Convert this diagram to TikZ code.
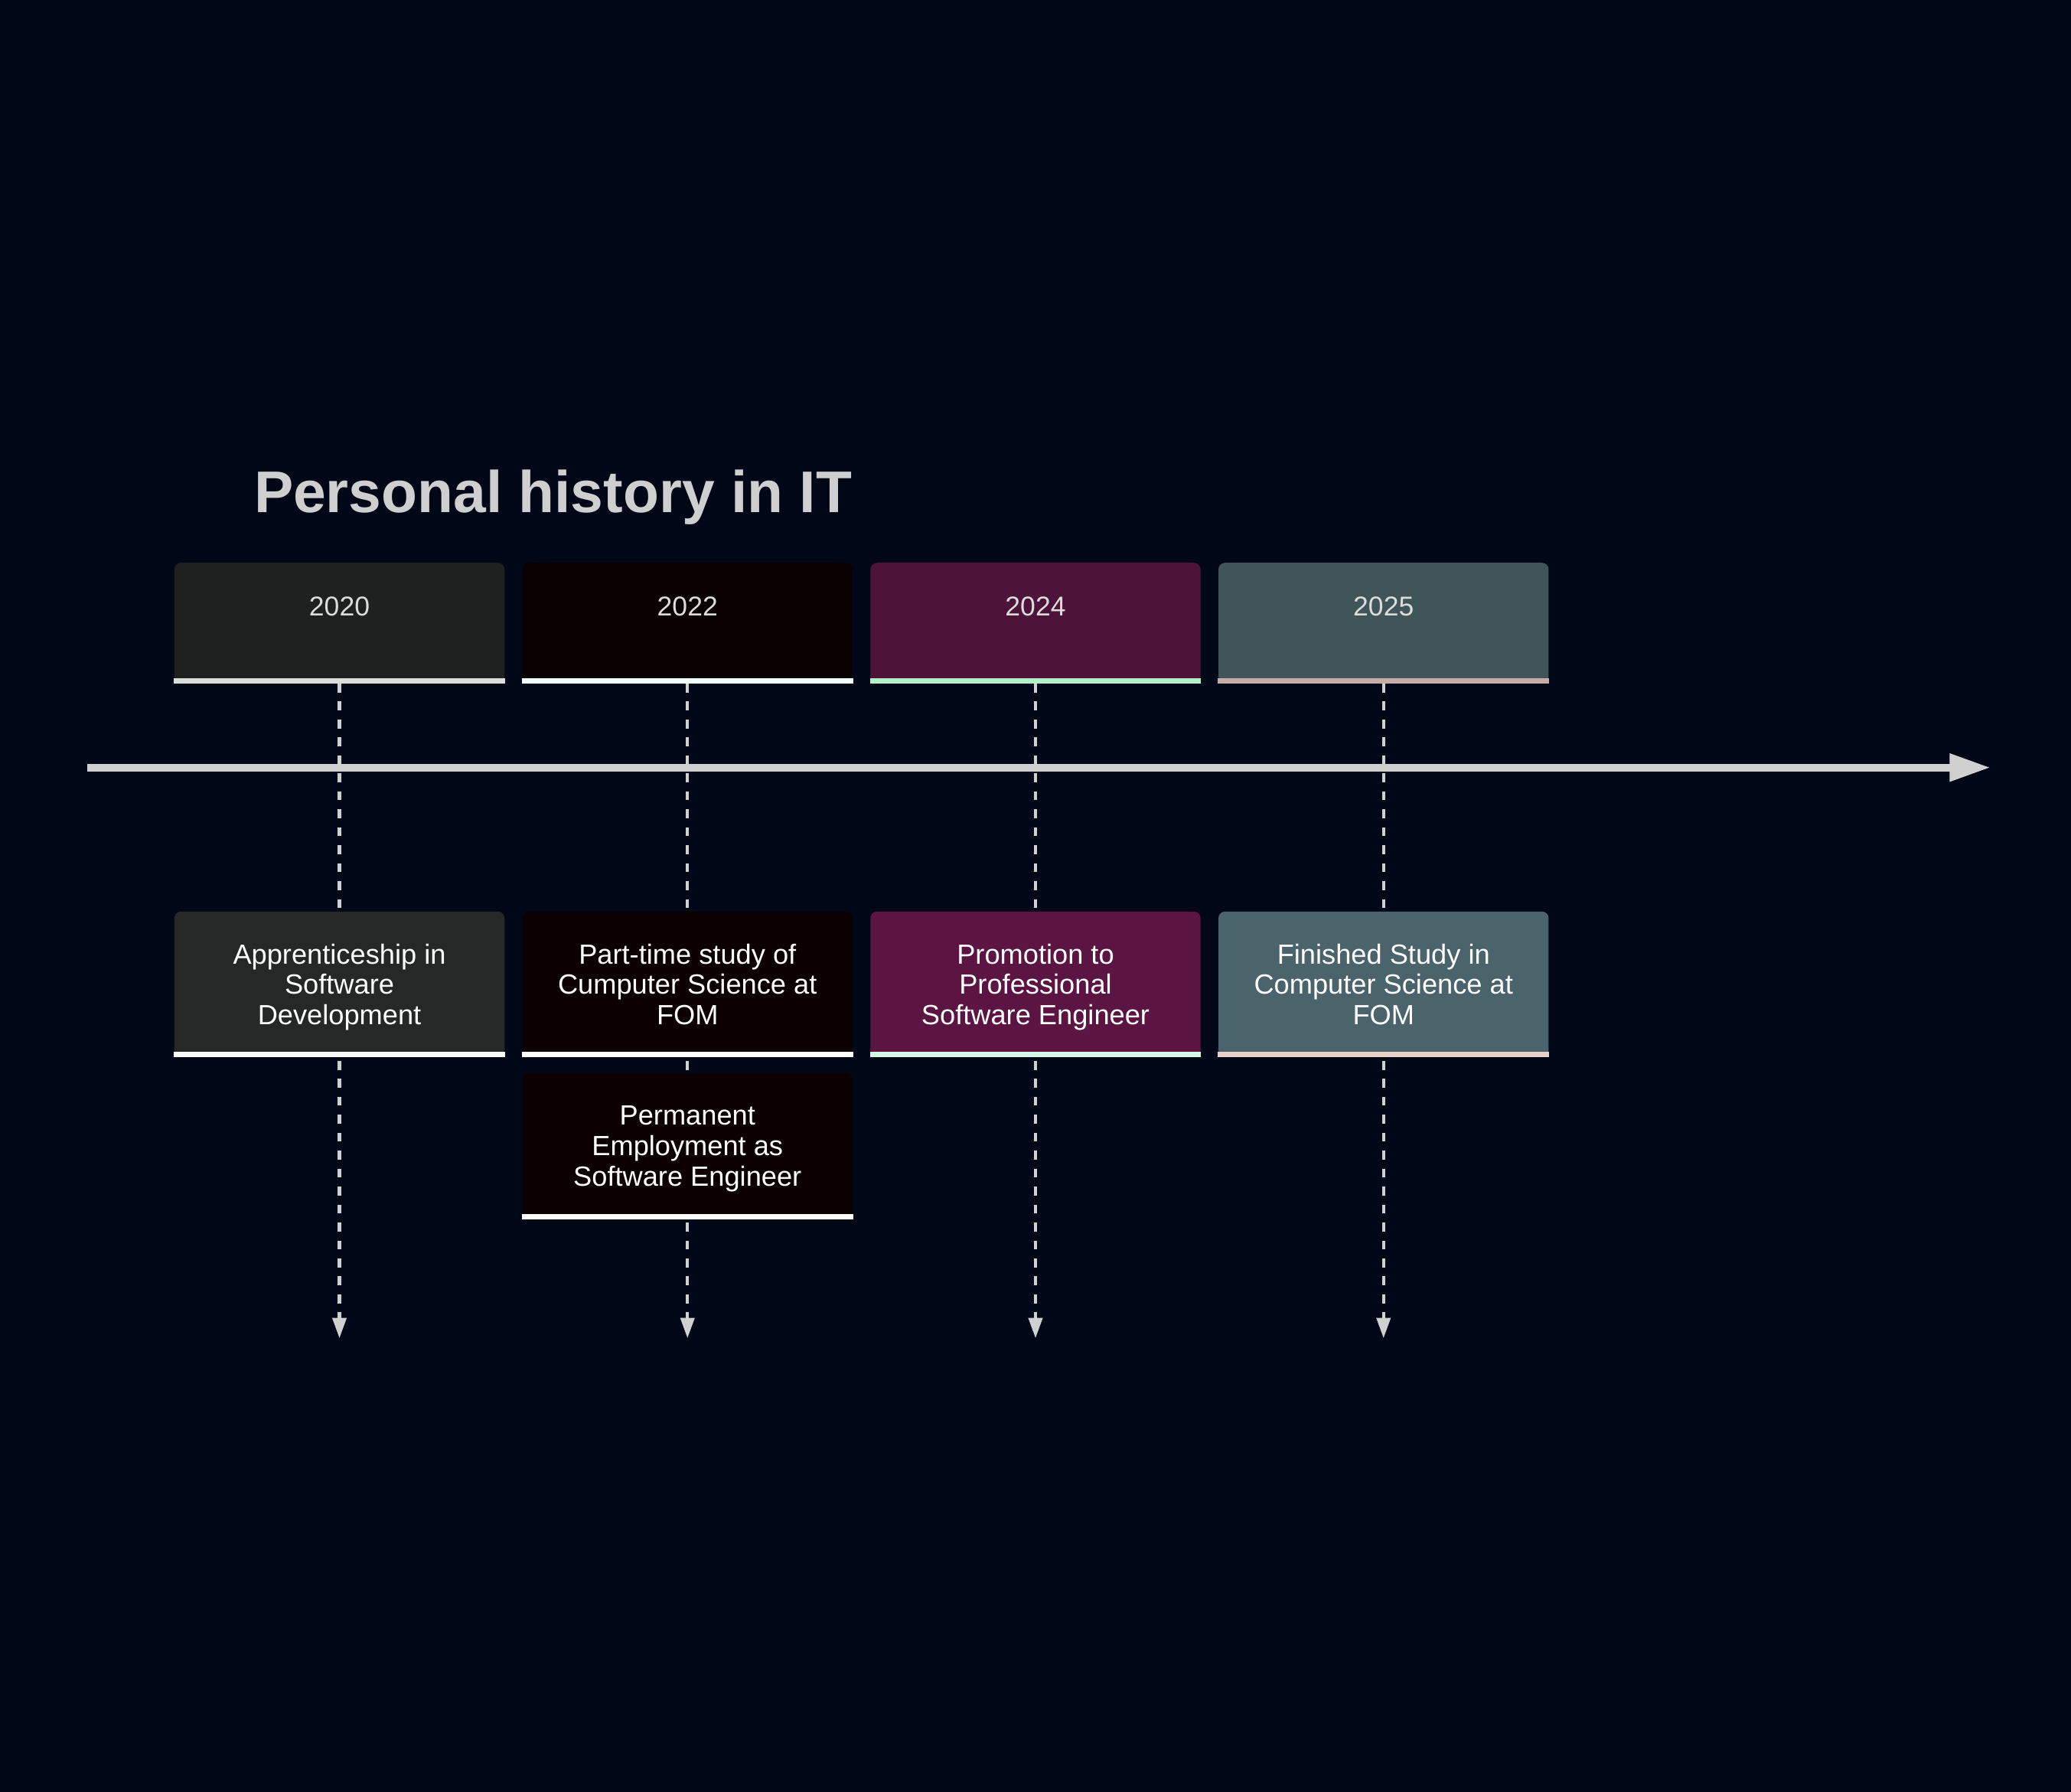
\documentclass[tikz,border=0pt]{standalone}
\usepackage{fontspec}
\setmainfont{Liberation Sans}
\usetikzlibrary{arrows.meta}
\definecolor{bgnavy}{HTML}{000818}
\definecolor{titlegray}{HTML}{CFCFCF}
\definecolor{yeartext}{HTML}{DCDCDC}
\definecolor{guidegray}{HTML}{D0D0D0}
\definecolor{yfillA}{HTML}{1F2020}
\definecolor{efillA}{HTML}{262828}
\definecolor{ylineA}{HTML}{DCDCDC}
\definecolor{elineA}{HTML}{FAFAFA}
\definecolor{yfillB}{HTML}{0A0000}
\definecolor{efillB}{HTML}{0D0000}
\definecolor{ylineB}{HTML}{F0FDFF}
\definecolor{elineB}{HTML}{FFFFFF}
\definecolor{yfillC}{HTML}{4E1339}
\definecolor{efillC}{HTML}{5C1442}
\definecolor{ylineC}{HTML}{B3F0CA}
\definecolor{elineC}{HTML}{D3FBE8}
\definecolor{yfillD}{HTML}{40555A}
\definecolor{efillD}{HTML}{4B636A}
\definecolor{ylineD}{HTML}{C4AEA7}
\definecolor{elineD}{HTML}{E8D0C9}
\newcommand{\boxline}[2]{\draw[line width=2pt,draw=#2] ([yshift=1pt]#1.south west) -- ([yshift=1pt]#1.south east);}
\tikzset{
  yearbox/.style={fill=#1, rounded corners=2.5pt, minimum width=125pt, minimum height=45.5pt,
    inner sep=0pt, text=yeartext, text depth=12.5pt, font=\fontsize{10.3pt}{12pt}\selectfont},
  eventbox/.style={fill=#1, rounded corners=2.5pt, minimum width=125pt, minimum height=55pt,
    inner sep=0pt, text=white, align=center, text depth=0pt, font=\fontsize{10.5pt}{11.5pt}\selectfont},
  guide/.style={draw=guidegray, line width=1.2pt, dash pattern=on 3.4pt off 3.4pt,
    -{Triangle[length=7.7pt,width=5.2pt]}},
  axisline/.style={draw=guidegray, line width=2.8pt, -{Triangle[length=15.5pt,width=10pt]}}
}
\begin{document}
\begin{tikzpicture}[x=0.5pt,y=-0.5pt]
    \useasboundingbox (0,0) rectangle (1568,1356);
    \fill[bgnavy] (-10,-10) rectangle (1578,1366);
    \node[anchor=base west, inner sep=0pt, text=titlegray, font=\fontsize{22.25pt}{27pt}\selectfont\bfseries] (title) at (192,388) {Personal history in IT};
    % years
    \node[yearbox=yfillA] (y2020) at (257,471.5) {2020};
    \node[yearbox=yfillB] (y2022) at (520.5,471.5) {2022};
    \node[yearbox=yfillC] (y2024) at (784,471.5) {2024};
    \node[yearbox=yfillD] (y2025) at (1047.5,471.5) {2025};
    \boxline{y2020}{ylineA}
    \boxline{y2022}{ylineB}
    \boxline{y2024}{ylineC}
    \boxline{y2025}{ylineD}
    % dashed guides
    \coordinate (end2020) at (257,1013);
    \coordinate (end2022) at (520.5,1013);
    \coordinate (end2024) at (784,1013);
    \coordinate (end2025) at (1047.5,1013);
    \draw[guide] (y2020.south) -- (end2020);
    \draw[guide] (y2022.south) -- (end2022);
    \draw[guide] (y2024.south) -- (end2024);
    \draw[guide] (y2025.south) -- (end2025);
    % time axis
    \coordinate (axisstart) at (66,581);
    \coordinate (axisend) at (1507,581);
    \draw[axisline] (axisstart) -- (axisend);
    % events
    \node[eventbox=efillA] (e2020) at (257,745) {Apprenticeship in\\Software\\Development};
    \node[eventbox=efillB] (e2022a) at (520.5,745) {Part-time study of\\Cumputer Science at\\FOM};
    \node[eventbox=efillB] (e2022b) at (520.5,867.5) {Permanent\\Employment as\\Software Engineer};
    \node[eventbox=efillC] (e2024) at (784,745) {Promotion to\\Professional\\Software Engineer};
    \node[eventbox=efillD] (e2025) at (1047.5,745) {Finished Study in\\Computer Science at\\FOM};
    \boxline{e2020}{elineA}
    \boxline{e2022a}{elineB}
    \boxline{e2022b}{elineB}
    \boxline{e2024}{elineC}
    \boxline{e2025}{elineD}
\end{tikzpicture}
\end{document}
